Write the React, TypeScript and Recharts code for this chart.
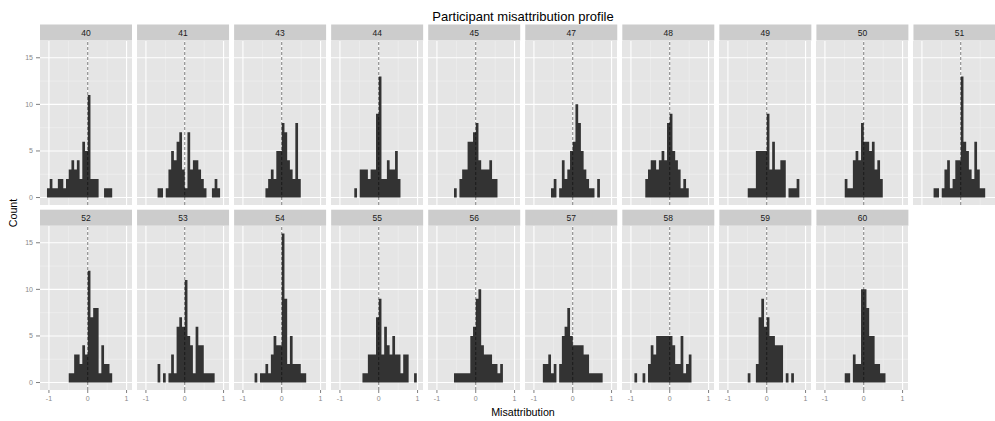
import React from 'react';
import { AreaChart, Area, XAxis, YAxis, CartesianGrid, ReferenceLine } from 'recharts';

// ---- data ----
const binEdges = [-1.05, -0.98, -0.91, -0.84, -0.77, -0.7, -0.63, -0.56, -0.49, -0.42, -0.35, -0.28, -0.21, -0.14, -0.07, 0, 0.07, 0.14, 0.21, 0.28, 0.35, 0.42, 0.49, 0.56, 0.63, 0.7, 0.77, 0.84, 0.91, 0.98, 1.05];

const row1Participants = ['40', '41', '43', '44', '45', '47', '48', '49', '50', '51'];
const row2Participants = ['52', '53', '54', '55', '56', '57', '58', '59', '60'];

const counts40 = [1, 2, 1, 1, 2, 2, 1, 2, 3, 4, 3, 4, 2, 6, 5, 11, 2, 2, 2, 0, 0, 1, 1, 1, 0, 0, 0, 0, 0, 0];
const counts41 = [0, 0, 0, 0, 0, 1, 1, 0, 1, 3, 5, 4, 6, 7, 3, 1, 7, 3, 4, 4, 3, 2, 1, 0, 0, 1, 2, 1, 0, 0];
const counts43 = [0, 0, 0, 0, 0, 0, 0, 0, 0, 1, 2, 3, 2, 5, 5, 8, 7, 4, 3, 2, 8, 2, 0, 0, 0, 0, 0, 0, 0, 0];
const counts44 = [0, 0, 0, 0, 0, 0, 1, 0, 3, 3, 3, 2, 3, 3, 9, 13, 2, 2, 4, 3, 3, 5, 2, 0, 0, 0, 0, 0, 0, 0];
const counts45 = [0, 0, 0, 0, 0, 0, 0, 1, 0, 2, 3, 3, 6, 6, 7, 8, 4, 3, 3, 3, 4, 2, 2, 0, 0, 0, 0, 0, 0, 0];
const counts47 = [0, 0, 0, 0, 0, 0, 0, 1, 2, 0, 1, 4, 2, 3, 5, 6, 10, 8, 5, 3, 2, 1, 1, 0, 2, 0, 0, 0, 0, 0];
const counts48 = [0, 0, 0, 0, 0, 0, 2, 3, 4, 4, 3, 4, 5, 4, 8, 9, 5, 4, 3, 1, 2, 1, 0, 0, 0, 0, 0, 0, 0, 0];
const counts49 = [0, 0, 0, 0, 0, 0, 0, 0, 1, 1, 1, 5, 5, 5, 5, 9, 3, 6, 3, 3, 4, 4, 0, 1, 1, 1, 2, 0, 0, 0];
const counts50 = [0, 0, 0, 0, 0, 0, 0, 0, 2, 1, 1, 4, 5, 4, 8, 6, 6, 5, 6, 3, 4, 2, 0, 0, 0, 0, 0, 0, 0, 0];
const counts51 = [0, 0, 0, 0, 0, 1, 1, 0, 1, 3, 4, 1, 2, 4, 4, 13, 6, 5, 3, 2, 6, 3, 1, 1, 0, 0, 0, 0, 0, 0];
const counts52 = [0, 0, 0, 0, 0, 0, 0, 0, 1, 1, 3, 3, 2, 4, 3, 12, 7, 8, 8, 1, 4, 2, 2, 1, 0, 0, 0, 0, 0, 0];
const counts53 = [0, 0, 0, 0, 0, 2, 0, 1, 0, 1, 3, 1, 6, 7, 6, 11, 5, 4, 1, 6, 4, 4, 1, 1, 1, 1, 0, 0, 0, 0];
const counts54 = [0, 0, 0, 0, 0, 1, 0, 1, 1, 2, 1, 3, 5, 4, 4, 16, 9, 2, 5, 2, 2, 2, 1, 1, 0, 0, 0, 0, 0, 0];
const counts55 = [0, 0, 0, 0, 0, 0, 0, 0, 0, 1, 1, 3, 3, 3, 7, 9, 3, 6, 4, 3, 5, 3, 3, 1, 3, 3, 0, 0, 1, 0];
const counts56 = [0, 0, 0, 0, 0, 0, 0, 1, 1, 1, 1, 1, 1, 5, 6, 9, 10, 4, 3, 3, 3, 2, 2, 1, 2, 0, 0, 0, 0, 0];
const counts57 = [0, 0, 0, 0, 2, 2, 3, 1, 2, 0, 2, 5, 6, 8, 5, 4, 4, 4, 4, 3, 3, 1, 1, 1, 1, 1, 0, 0, 0, 0];
const counts58 = [0, 0, 1, 0, 0, 1, 0, 2, 4, 3, 5, 5, 5, 5, 5, 5, 4, 2, 2, 5, 1, 2, 3, 0, 0, 0, 0, 0, 0, 0];
const counts59 = [0, 0, 0, 0, 0, 0, 0, 0, 1, 0, 0, 2, 7, 9, 6, 7, 5, 5, 4, 4, 4, 0, 1, 0, 1, 0, 0, 0, 0, 0];
const counts60 = [0, 0, 0, 0, 0, 0, 0, 0, 1, 1, 0, 3, 2, 2, 10, 10, 8, 5, 5, 2, 2, 1, 1, 0, 0, 0, 0, 0, 0, 0];

const row1Counts = [counts40, counts41, counts43, counts44, counts45, counts47, counts48, counts49, counts50, counts51];
const row2Counts = [counts52, counts53, counts54, counts55, counts56, counts57, counts58, counts59, counts60];

const xMajor = [-1, 0, 1];
const xMinor = [-0.5, 0.5];
const yMajor = [0, 5, 10, 15];
const yMinor = [2.5, 7.5, 12.5];

const titleText = 'Participant misattribution profile';
const xLabel = 'Misattribution';
const yLabel = 'Count';

// ---- layout ----
const FONT = '"Liberation Sans", Arial, Helvetica, sans-serif';
const PANEL_X0 = 40;
const PITCH = 97.05;
const PANEL_W = 92;
const PANEL_H = 164;
const STRIP_H = 16;
const ROW_TOPS = [40.5, 225.7];
const Y_AXIS_W = 40;
const X_AXIS_H = 22;

function histPoints(counts: number[]) {
  let first = 0;
  while (first < counts.length && counts[first] === 0) first++;
  let last = counts.length - 1;
  while (last > 0 && counts[last] === 0) last--;
  const pts: { x: number; y: number }[] = [];
  for (let i = first; i <= last; i++) pts.push({ x: binEdges[i], y: counts[i] });
  pts.push({ x: binEdges[last + 1], y: 0 });
  return pts;
}

function Panel({ counts, col, row, showX }: { counts: number[]; col: number; row: number; showX: boolean }) {
  const showY = col === 0;
  const panelLeft = PANEL_X0 + col * PITCH;
  const left = panelLeft - (showY ? Y_AXIS_W : 0);
  const top = ROW_TOPS[row];
  const width = PANEL_W + (showY ? Y_AXIS_W : 0);
  const height = PANEL_H + (showX ? X_AXIS_H : 0);
  const data = histPoints(counts);
  return (
    <div style={{ position: 'absolute', left, top, width, height }}>
      <AreaChart width={width} height={height} data={data} margin={{ top: 0, right: 0, bottom: 0, left: 0 }}>
        <CartesianGrid fill="#E5E5E5" fillOpacity={1} stroke="#F2F2F2" strokeWidth={0.6} verticalValues={xMinor} horizontalValues={yMinor} />
        <CartesianGrid stroke="#FFFFFF" strokeWidth={1.1} verticalValues={xMajor} horizontalValues={yMajor} />
        <XAxis
          type="number"
          dataKey="x"
          domain={[-1.23, 1.14]}
          allowDataOverflow
          ticks={xMajor}
          interval={0}
          hide={!showX}
          height={X_AXIS_H}
          axisLine={false}
          tickLine={{ stroke: '#7F7F7F' }}
          tickSize={3}
          tickMargin={3}
          tick={{ fontSize: 7, fill: '#888888', fontFamily: FONT }}
        />
        <YAxis
          type="number"
          domain={[-0.8, 16.8]}
          allowDataOverflow
          ticks={yMajor}
          interval={0}
          hide={!showY}
          width={Y_AXIS_W}
          axisLine={false}
          tickLine={{ stroke: '#7F7F7F' }}
          tickSize={4}
          tickMargin={3}
          tick={{ fontSize: 7, fill: '#888888', fontFamily: FONT }}
        />
        <Area type="stepAfter" dataKey="y" baseValue={0} stroke="none" fill="#333333" fillOpacity={1} isAnimationActive={false} dot={false} activeDot={false} />
        <ReferenceLine x={0} stroke="#000000" strokeOpacity={0.5} strokeWidth={1} strokeDasharray="3 2" />
      </AreaChart>
    </div>
  );
}

export default function App() {
  const strips: React.ReactNode[] = [];
  const addStrips = (labels: string[], row: number) => {
    labels.forEach((lab, col) => {
      const x = PANEL_X0 + col * PITCH;
      const y = ROW_TOPS[row] - STRIP_H;
      strips.push(
        <g key={`s-${row}-${col}`}>
          <rect x={x} y={y} width={PANEL_W} height={STRIP_H} fill="#CCCCCC" />
          <text x={x + PANEL_W / 2} y={y + 11.2} textAnchor="middle" fontSize={8.5} fill="#1A1A1A" fontFamily={FONT}>
            {lab}
          </text>
        </g>
      );
    });
  };
  addStrips(row1Participants, 0);
  addStrips(row2Participants, 1);

  return (
    <div style={{ position: 'absolute', left: 0, top: 0, width: 995, height: 421, overflow: 'hidden', background: '#FFFFFF' }}>
      <svg width={995} height={421} style={{ position: 'absolute', left: 0, top: 0 }}>
        {strips}
        <text x={523} y={20.5} textAnchor="middle" fontSize={13} fill="#000000" fontFamily={FONT}>
          {titleText}
        </text>
        <text x={523} y={416} textAnchor="middle" fontSize={10.7} fill="#000000" fontFamily={FONT}>
          {xLabel}
        </text>
        <text x={17.3} y={213} textAnchor="middle" fontSize={10.7} fill="#000000" fontFamily={FONT} transform="rotate(-90 17.3 213)">
          {yLabel}
        </text>
      </svg>
      {row1Counts.map((c, i) => (
        <Panel key={`r1-${i}`} counts={c} col={i} row={0} showX={false} />
      ))}
      {row2Counts.map((c, i) => (
        <Panel key={`r2-${i}`} counts={c} col={i} row={1} showX={true} />
      ))}
    </div>
  );
}
